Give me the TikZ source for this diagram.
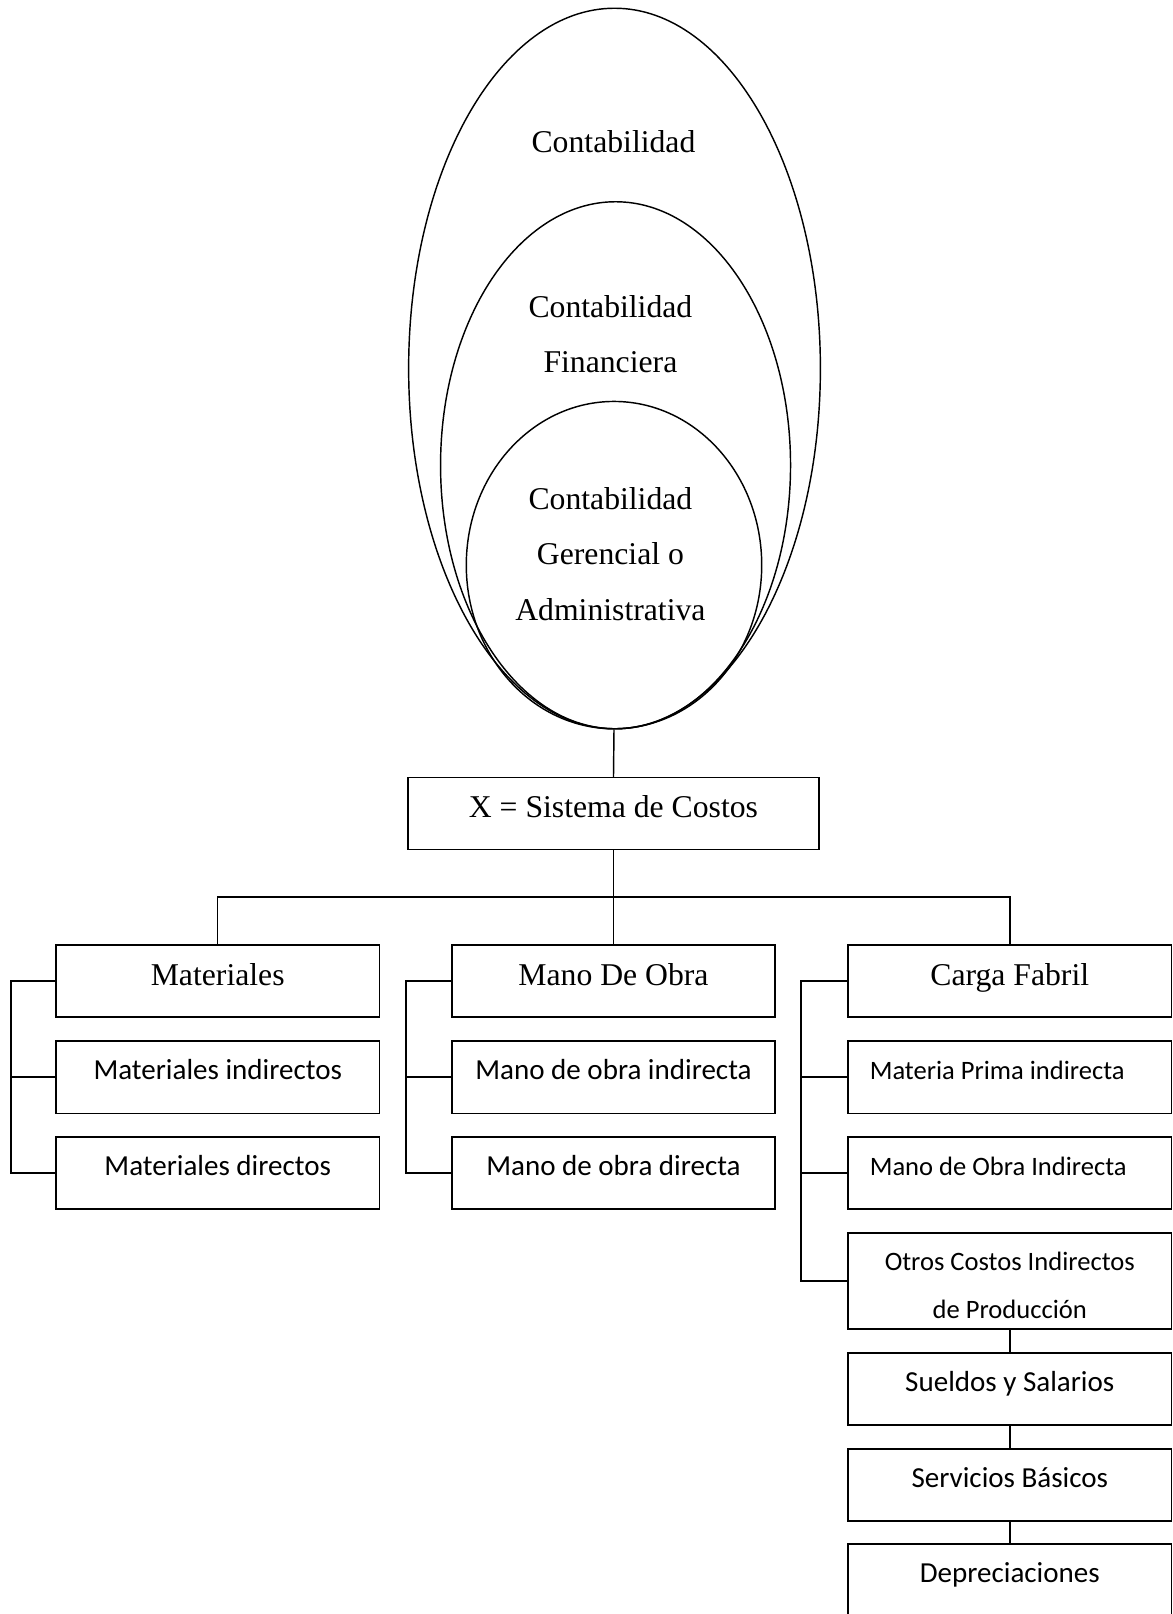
\documentclass[tikz,border=0pt]{standalone}
\usepackage{fontspec}
\setmainfont{Liberation Serif}
\newfontfamily\calibri{Carlito}
\usetikzlibrary{shapes.geometric,positioning}

\begin{document}
\begin{tikzpicture}[x=0.5pt,y=-0.5pt,line width=0.7pt,
    ring/.style={draw, ellipse, inner sep=0pt},
    ringtext/.style={align=center, font=\fontsize{15.4}{27}\selectfont},
    serifbox/.style={draw, rectangle, minimum width=157pt, minimum height=35pt, inner sep=0pt,
        text height=12pt, text depth=8pt, font=\fontsize{15.4}{18}\selectfont},
    itembox/.style={draw, rectangle, minimum width=157pt, minimum height=35pt, inner sep=0pt,
        text height=11pt, text depth=8.5pt, font=\calibri\fontsize{14.1}{17}\selectfont},
    smallbox/.style={itembox, font=\calibri\fontsize{12.9}{15}\selectfont,
        text width=136pt, inner xsep=10.5pt, align=flush left}]
    \useasboundingbox (0,0) rectangle (1139,1568);

    % nested ellipses
    \node[ring, minimum width=200pt, minimum height=350pt] (contab) at (597,358) {};
    \node[ring, minimum width=170pt, minimum height=256pt] (financ) at (598,452) {};
    \node[ring, minimum width=143.5pt, minimum height=159pt] (gerenc) at (596.5,549) {};
    \node[ringtext] (tcont) at (596,138) {Contabilidad};
    \node[ringtext] (tfin) at (593,324.5) {Contabilidad\\Financiera};
    \node[ringtext] (tger) at (593,538) {Contabilidad\\Gerencial o\\Administrativa};

    \node[serifbox, minimum width=199.5pt] (costos) at (596,790.5) {X = Sistema de Costos};

    % first level
    \node[serifbox] (mat) at (211.5,953) {Materiales};
    \node[serifbox] (mano) at (596,953) {Mano De Obra};
    \node[serifbox] (carga) at (981,953) {Carga Fabril};

    \node[itembox] (matind) at (211.5,1046.5) {Materiales indirectos};
    \node[itembox] (matdir) at (211.5,1139.5) {Materiales directos};
    \node[itembox] (manoind) at (596,1046.5) {Mano de obra indirecta};
    \node[itembox] (manodir) at (596,1139.5) {Mano de obra directa};
    \node[smallbox] (mpi) at (981,1046.5) {Materia Prima indirecta};
    \node[smallbox] (moi) at (981,1139.5) {Mano de Obra Indirecta};
    \node[draw, minimum width=157pt, minimum height=46.5pt, inner sep=0pt, align=center,
        font=\calibri\fontsize{12.9}{23.5}\selectfont] (otros) at (981,1244.5)
        {\rule{0pt}{13pt}Otros Costos Indirectos\\de Producción};
    \node[itembox] (sueldos) at (981,1349.5) {Sueldos y Salarios};
    \node[itembox] (servicios) at (981,1442.5) {Servicios Básicos};
    \node[itembox] (deprec) at (981,1535) {Depreciaciones};

    % connectors
    \draw (gerenc.south) -- (costos.north);
    \draw (costos.south) -- (mano.north);
    \draw (mat.north) -- ++(0,-46) -| (carga.north);

    \draw (mat.west) -- ++(-43,0) |- (matdir.west);
    \draw (matind.west) -- ++(-43,0);
    \draw (mano.west) -- ++(-44,0) |- (manodir.west);
    \draw (manoind.west) -- ++(-44,0);
    \draw (carga.west) -- ++(-45,0) |- (otros.west);
    \draw (mpi.west) -- ++(-45,0);
    \draw (moi.west) -- ++(-45,0);

    \draw (otros) -- (sueldos);
    \draw (sueldos) -- (servicios);
    \draw (servicios) -- (deprec);
\end{tikzpicture}
\end{document}
